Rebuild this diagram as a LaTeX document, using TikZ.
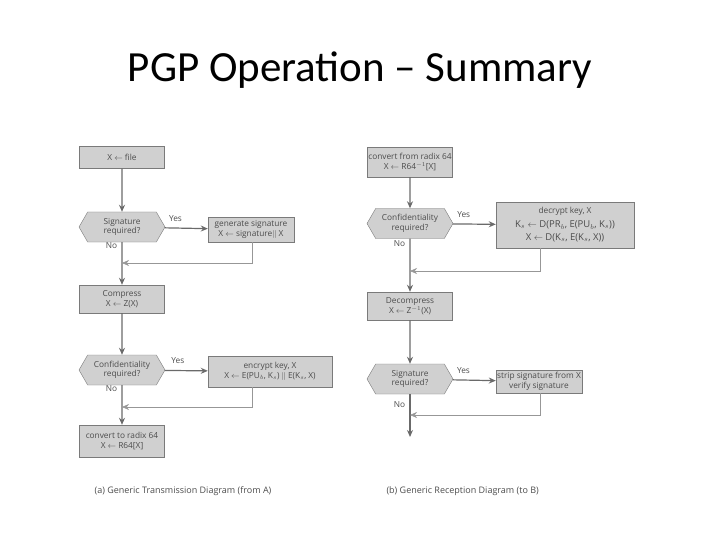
\documentclass[tikz,border=0pt]{standalone}
\usepackage{fontspec}
\setmainfont{Carlito}
\newfontfamily\diag{Open Sans}
\usetikzlibrary{shapes.symbols,arrows.meta}
\definecolor{boxfill}{HTML}{D0D0D0}
\definecolor{boxline}{HTML}{7A7A7A}
\definecolor{flow}{HTML}{6A6A6A}
\begin{document}
\begin{tikzpicture}[x=1pt,y=-1pt,
  every node/.style={font=\diag\fontsize{8.3}{9.5}\selectfont, text=black!70, align=center},
  proc/.style={draw=boxline, fill=boxfill, minimum width=85pt, minimum height=28pt, inner sep=1pt},
  dec/.style={draw=boxline, fill=boxfill, signal, signal to=east and west, signal pointer angle=120, minimum width=86pt, minimum height=30pt, inner sep=1pt},
  flowline/.style={draw=flow, line width=1.2pt, -{Stealth[length=7pt,width=6pt]}},
  ret/.style={draw=flow!70, line width=0.5pt},
  lab/.style={font=\diag\fontsize{8.3}{9.5}\selectfont}]
\useasboundingbox (0,0) rectangle (720,540);
\node[font=\fontsize{43}{48}\selectfont, text=black] (title) at (360,70) {PGP Operation – Summary};
% left
\node[proc, minimum height=22pt] (lfile) at (122,157.5) {X $\leftarrow$ file};
\node[dec] (ld1) at (122,227) {Signature\\required?};
\node[proc, minimum width=86pt, minimum height=25pt] (lsig) at (251,229.5) {generate signature\\X $\leftarrow$ signature$\|$ X};
\coordinate (lm1) at (122,263);
\node[proc] (lcomp) at (122,299) {Compress\\X $\leftarrow$ Z(X)};
\node[dec] (ld2) at (122,370) {Confidentiality\\required?};
\node[proc, minimum width=124pt, minimum height=31pt] (lenc) at (270,371.5) {encrypt key, X\\X $\leftarrow$ E(PU$_b$, K$_s$) $\|$ E(K$_s$, X)};
\coordinate (lm2) at (122,407);
\node[proc, minimum height=32pt] (lrad) at (122,441) {convert to radix 64\\X $\leftarrow$ R64[X]};
\node[font=\diag\fontsize{9}{11}\selectfont] (lcap) at (183,491) {(a) Generic Transmission Diagram (from A)};
\draw[flowline] (lfile) -- (ld1);
\draw[flowline] (ld1) -- node[pos=0.08, lab, left, xshift=-1pt]{No} (lcomp);
\draw[flowline] (ld1) -- node[pos=0.25, lab, above=3pt]{Yes} (lsig);
\draw[ret, -{Stealth[length=7pt,width=6pt]}] (lsig.south -| 252,0) |- (lm1);
\draw[flowline] (lcomp) -- (ld2);
\draw[flowline] (ld2) -- node[pos=0.08, lab, left, xshift=-1pt]{No} (lrad);
\draw[flowline] (ld2) -- node[pos=0.3, lab, above=3pt]{Yes} (lenc);
\draw[ret, -{Stealth[length=7pt,width=6pt]}] (lenc.south -| 252,0) |- (lm2);
% right
\node[proc, minimum height=30pt] (rrad) at (410,162) {convert from radix 64\\X $\leftarrow$ R64$^{-1}$[X]};
\node[dec] (rd1) at (410,223.5) {Confidentiality\\required?};
\node[proc, minimum width=138pt, minimum height=46pt, font=\diag\fontsize{9.5}{13}\selectfont] (rdec) at (565,225) {{\fontsize{8.3}{9.5}\selectfont decrypt key, X}\\[1pt]K$_s$ $\leftarrow$ D(PR$_b$, E(PU$_b$, K$_s$))\\X $\leftarrow$ D(K$_s$, E(K$_s$, X))};
\coordinate (rm1) at (410,271);
\node[proc] (rdcmp) at (410,306) {Decompress\\X $\leftarrow$ Z$^{-1}$(X)};
\node[dec] (rd2) at (410,379) {Signature\\required?};
\node[proc, minimum width=86pt, minimum height=23pt] (rstrip) at (539,381.5) {strip signature from X\\verify signature};
\coordinate (rm2) at (410,415);
\coordinate (rend) at (410,437);
\node[anchor=west, font=\diag\fontsize{9}{11}\selectfont] (rcap) at (383,491) {(b) Generic Reception Diagram (to B)};
\draw[flowline] (rrad) -- (rd1);
\draw[flowline] (rd1) -- node[pos=0.1, lab, left, xshift=-1pt]{No} (rdcmp);
\draw[flowline] (rd1) -- node[pos=0.25, lab, above=3pt]{Yes} (rdec);
\draw[ret, -{Stealth[length=7pt,width=6pt]}] (rdec.south -| 540,0) |- (rm1);
\draw[flowline] (rdcmp) -- (rd2);
\draw[flowline] (rd2) -- node[pos=0.25, lab, left, xshift=-1pt]{No} (rend);
\draw[flowline] (rd2) -- node[pos=0.25, lab, above=3pt]{Yes} (rstrip);
\draw[ret, -{Stealth[length=7pt,width=6pt]}] (rstrip.south -| 540,0) |- (rm2);
\end{tikzpicture}
\end{document}
